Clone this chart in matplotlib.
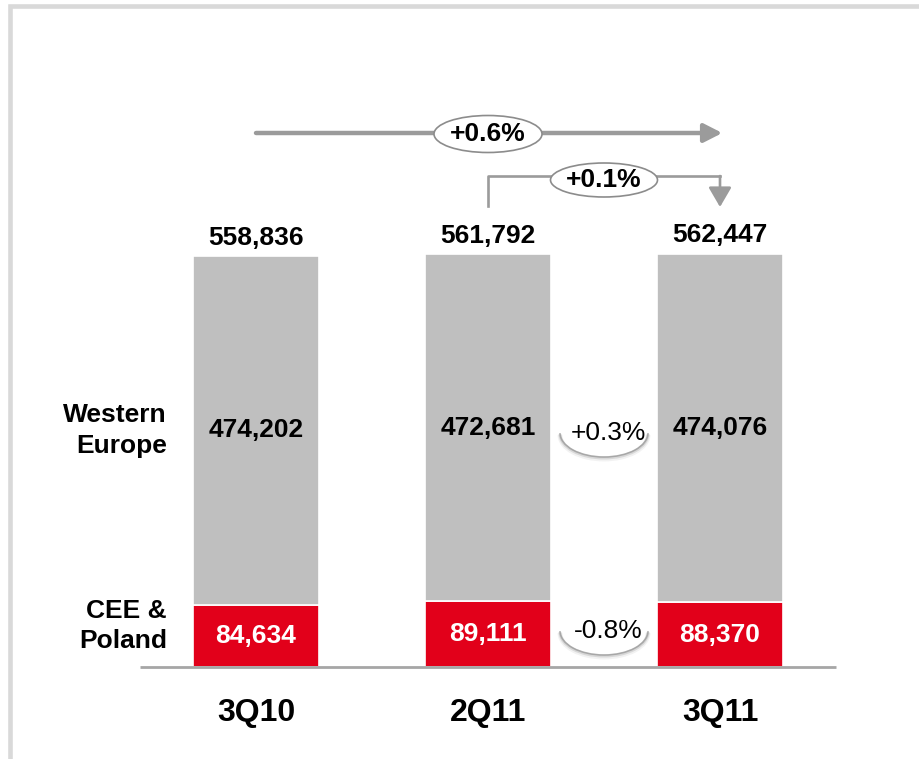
import matplotlib.pyplot as plt
from matplotlib.patches import Ellipse, Arc, Rectangle

plt.rcParams['font.family'] = ['Liberation Sans', 'DejaVu Sans']

# quarterly figures, two regions stacked
quarters = ["3Q10", "2Q11", "3Q11"]
cee_poland = [84634, 89111, 88370]
western_europe = [474202, 472681, 474076]
totals = [558836, 561792, 562447]
region_labels = ["Western\nEurope", "CEE &\nPoland"]
change_total = ["+0.6%", "+0.1%"]
change_region = ["+0.3%", "-0.8%"]

W, H = 919, 759
RED = "#E2001A"
GREY = "#BFBFBF"
ARROW = "#9B9B9B"

fig = plt.figure(figsize=(W / 100, H / 100), dpi=100)
ax = fig.add_axes([0, 0, 1, 1])

# pixel layout: first bar centred at x=256, bars 232px apart, baseline at y=667
ppu = 413 / 561792          # pixels per unit on the value axis
base_px, step_px, x0_px = 667, 232, 256
ax.set_xlim(-x0_px / step_px, (W - x0_px) / step_px)
ax.set_ylim(-(H - base_px) / ppu, base_px / ppu)
ax.axis("off")


def yv(py):
    # value on the y axis for a pixel row counted from the top
    return (base_px - py) / ppu


xs = range(len(quarters))
bw = 126 / step_px
ax.bar(xs, cee_poland, width=bw, color=RED, edgecolor="white", linewidth=1.2, zorder=2)
ax.bar(xs, western_europe, width=bw, bottom=cee_poland, color=GREY,
       edgecolor="white", linewidth=1.2, zorder=2)

ax.plot([-0.5, 2.5], [0, 0], color="#A6A6A6", lw=2, zorder=3, solid_capstyle="butt")

for i in xs:
    ax.text(i, cee_poland[i] / 2, f"{cee_poland[i]:,}", ha="center", va="center",
            fontsize=19, fontweight="bold", color="white", zorder=4)
    ax.text(i, cee_poland[i] + western_europe[i] / 2, f"{western_europe[i]:,}",
            ha="center", va="center", fontsize=19, fontweight="bold", zorder=4)
    ax.annotate(f"{totals[i]:,}", (i, totals[i]), xytext=(0, 13),
                textcoords="offset points", ha="center", va="center",
                fontsize=19, fontweight="bold")
    ax.annotate(quarters[i], (i, 0), xytext=(0, -33), textcoords="offset points",
                ha="center", va="center", fontsize=23, fontweight="bold")

# region names to the left of the first bar
lx = (167 - x0_px) / step_px
ax.annotate(region_labels[0], (lx, cee_poland[0] + western_europe[0] / 2), xytext=(0, 0),
            textcoords="offset points", ha="right", va="center", fontsize=19,
            fontweight="bold", linespacing=1.35)
ax.annotate(region_labels[1], (lx, cee_poland[0] / 2), xytext=(0, 7),
            textcoords="offset points", ha="right", va="center", fontsize=19,
            fontweight="bold", linespacing=1.35)

# year-on-year arrow
y_top = yv(133)
ax.annotate("", xy=(2.01, y_top), xytext=(0, y_top),
            arrowprops=dict(arrowstyle="-|>,head_length=0.55,head_width=0.28",
                            color=ARROW, lw=3.2, mutation_scale=20, shrinkA=0, shrinkB=0))
ax.add_patch(Ellipse((1, yv(134)), 108 / step_px, 37 / ppu, facecolor="white",
                     edgecolor="#8C8C8C", lw=1.2, zorder=5))
ax.text(1, yv(134), change_total[0], ha="center", va="center", fontsize=19,
        fontweight="bold", zorder=6)

# quarter-on-quarter bracket
y_br = yv(176)
ax.plot([1, 1, 2], [yv(206), y_br, y_br], color=ARROW, lw=1.9, zorder=3)
ax.annotate("", xy=(2, yv(207)), xytext=(2, y_br),
            arrowprops=dict(arrowstyle="-|>,head_length=0.6,head_width=0.35",
                            color=ARROW, lw=1.9, mutation_scale=20, shrinkA=0, shrinkB=0))
ax.add_patch(Ellipse((1.5, yv(180)), 107 / step_px, 34 / ppu, facecolor="white",
                     edgecolor="#8C8C8C", lw=1.2, zorder=5))
ax.text(1.5, yv(180), change_total[1], ha="center", va="center", fontsize=19,
        fontweight="bold", zorder=6)

# regional changes with a soft crescent underneath, darker towards the right
for lbl, py in zip(change_region, [433, 631]):
    cy = yv(py)
    for lw, a, dy, t1, t2 in [(3.5, 0.10, 2, 195, 405), (2.2, 0.22, 1, 215, 405),
                              (1.2, 0.55, 0, 240, 400)]:
        ax.add_patch(Arc((1.5, cy - dy / ppu), 88 / step_px, 48 / ppu,
                         theta1=t1, theta2=t2, color="#808080", lw=lw, alpha=a))
    ax.text(1.52, cy, lbl, ha="center", va="center", fontsize=19, zorder=6)

# light grey frame running off the right and bottom edges
fig.add_artist(Rectangle((10.4 / W, -0.05), 1.1, 1.05 - 6.2 / H, transform=fig.transFigure,
                         fill=False, edgecolor="#D9D9D9", lw=3.3))

fig.savefig("out.png", dpi=100)
